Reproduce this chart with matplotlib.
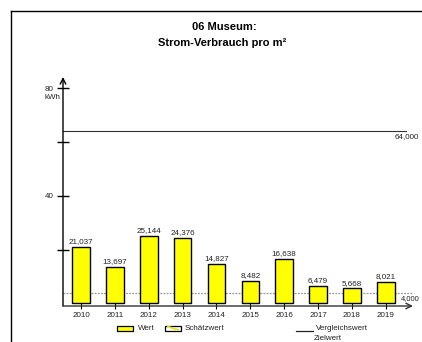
import numpy as np
import matplotlib.pyplot as plt
from matplotlib.patches import Rectangle
from matplotlib.lines import Line2D

plt.rcParams['font.family'] = ['Liberation Sans', 'DejaVu Sans']

# data
years = ['2010', '2011', '2012', '2013', '2014', '2015', '2016', '2017', '2018', '2019']
wert = [21.037, 13.697, 25.144, 24.376, 14.827, 8.482, 16.638, 6.479, 5.668, 8.021]
vergleichswert = 64.0
zielwert = 4.0

W, H = 422, 342
fig = plt.figure(figsize=(W / 100, H / 100), dpi=100)


def fx(px):
    return px / W


def fy(py):
    return 1 - py / H


def de(v):
    # german decimal comma
    return f'{v:.3f}'.replace('.', ',')


# axes placed in pixel coords: x 63..413, y 77..306
ax = fig.add_axes([fx(63), fy(306), fx(413) - fx(63), fy(77) - fy(306)])
x = np.arange(len(years))
ax.bar(x, wert, width=0.52, color='#ffff00', edgecolor='black', linewidth=1.0, zorder=3)
for xi, v in zip(x, wert):
    ax.text(xi, v + 0.6, de(v), ha='center', va='bottom', fontsize=5.8, color='#222222')

ax.set_xlim(-0.53, 9.8)
ax.set_ylim(-0.93, 84.2)

ax.axhline(vergleichswert, color='#333333', lw=0.8, xmax=0.98, zorder=2)
ax.axhline(zielwert, color='#999999', lw=0.9, ls=(0, (1.5, 1)), zorder=2)
ax.text(9.25, vergleichswert - 0.8, de(vergleichswert), ha='left', va='top',
        fontsize=5.8, color='#222222', clip_on=False)
ax.text(9.45, 1.9, de(zielwert), ha='left', va='center',
        fontsize=5.4, color='#222222', clip_on=False)

for s in ax.spines.values():
    s.set_visible(False)
ax.annotate('', xy=(0, 1.0), xytext=(0, 0), xycoords='axes fraction',
            arrowprops=dict(arrowstyle='->', lw=1.0, color='black', shrinkA=0, shrinkB=0))
ax.annotate('', xy=(1.0, 0), xytext=(0, 0), xycoords='axes fraction',
            arrowprops=dict(arrowstyle='->', lw=1.0, color='#333333', shrinkA=0, shrinkB=0))

ax.set_xticks(x)
ax.set_xticklabels(years, fontsize=5.8, color='#222222')
ax.tick_params(axis='x', direction='inout', length=5, width=0.8, pad=2)
ax.set_yticks([40, 80])
ax.set_yticklabels(['40', '80'], fontsize=5.8, color='#222222')
ax.set_yticks([20, 60], minor=True)
ax.tick_params(axis='y', which='both', direction='inout', length=8, width=1.0, pad=3)
ax.text(-0.62, 80 - 3.6, 'kWh', ha='right', va='center', fontsize=5.8, color='#222222')

# title
fig.text(fx(224), fy(27), '06 Museum:', ha='center', va='center', fontsize=8, fontweight='bold')
fig.text(fx(222), fy(43), 'Strom-Verbrauch pro m²', ha='center', va='center', fontsize=8, fontweight='bold')

# frame
fig.add_artist(Line2D([fx(11), fx(422)], [fy(11), fy(11)], color='black', lw=1.0))
fig.add_artist(Line2D([fx(11), fx(11)], [fy(11), fy(342)], color='black', lw=1.0))

# legend
fig.add_artist(Rectangle((fx(117), fy(330.5)), fx(16), fx(5) * W / H, facecolor='#ffff00',
                         edgecolor='black', lw=0.9))
fig.text(fx(138), fy(328), 'Wert', ha='left', va='center', fontsize=5.8, color='#222222')
fig.add_artist(Rectangle((fx(165), fy(330.5)), fx(16), fx(5) * W / H, facecolor='white',
                         edgecolor='black', lw=0.9))
fig.add_artist(Line2D([fx(168), fx(178)], [fy(326.5), fy(330)], color='#e6e600', lw=1.2))
fig.text(fx(185), fy(328), 'Schätzwert', ha='left', va='center', fontsize=5.8, color='#222222')
fig.add_artist(Line2D([fx(296), fx(313)], [fy(331), fy(331)], color='#222222', lw=0.9))
fig.text(fx(316), fy(328), 'Vergleichswert', ha='left', va='center', fontsize=5.8, color='#222222')
fig.text(fx(314), fy(339), 'Zielwert', ha='left', va='center', fontsize=5.8, color='#222222')

fig.savefig('out.png', dpi=100)
